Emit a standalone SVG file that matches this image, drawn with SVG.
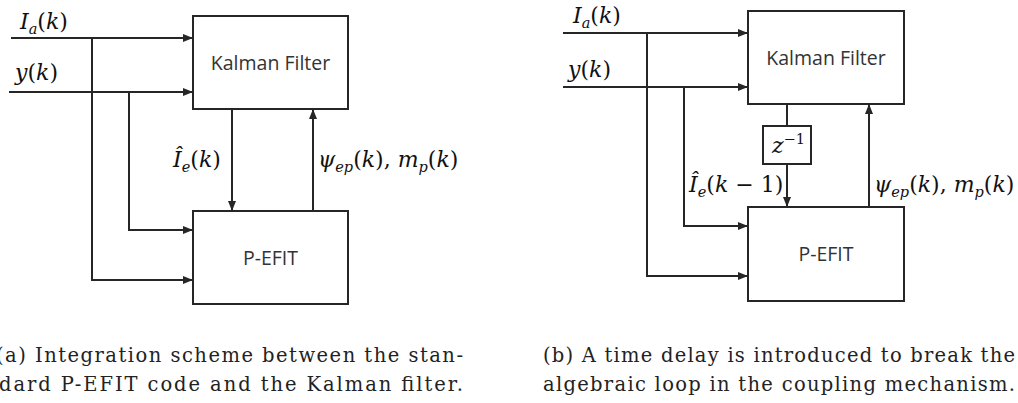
<svg xmlns="http://www.w3.org/2000/svg" width="1018" height="403" viewBox="0 0 1018 403">
<style>
.box{fill:#fff;stroke:#262626;stroke-width:2}
.ln{fill:none;stroke:#262626;stroke-width:2}
.blk{font-family:"Open Sans","Noto Sans",sans-serif;font-size:19.5px;fill:#333;text-anchor:middle}
.m{font-family:"DejaVu Serif","Liberation Serif",serif;font-size:22px;fill:#111}
.i{font-style:italic}
.s{font-size:14.5px;font-style:italic}
.cap{font-family:"DejaVu Serif","Liberation Serif",serif;font-size:19.5px;fill:#222}
</style>
<defs>
<marker id="ah" markerWidth="10" markerHeight="8" refX="10" refY="4" orient="auto" markerUnits="userSpaceOnUse">
<path d="M0,0 L10,4 L0,8 z" fill="#262626"/>
</marker>
</defs>
<g id="connectors">
<path class="ln" d="M11,38 H193" marker-end="url(#ah)"/>
<path class="ln" d="M9,92 H193" marker-end="url(#ah)"/>
<path class="ln" d="M92,38 V280 H193" marker-end="url(#ah)"/>
<path class="ln" d="M129,92 V230 H193" marker-end="url(#ah)"/>
<path class="ln" d="M232,109 V211" marker-end="url(#ah)"/>
<path class="ln" d="M313,211 V109" marker-end="url(#ah)"/>
<path class="ln" d="M563,33 H748" marker-end="url(#ah)"/>
<path class="ln" d="M563,87 H748" marker-end="url(#ah)"/>
<path class="ln" d="M647,33 V276 H748" marker-end="url(#ah)"/>
<path class="ln" d="M684,87 V226 H748" marker-end="url(#ah)"/>
<path class="ln" d="M787,104 V126"/>
<path class="ln" d="M787,164 V207" marker-end="url(#ah)"/>
<path class="ln" d="M869,207 V104" marker-end="url(#ah)"/>
</g>
<g id="kf-a"><rect class="box" x="193" y="16" width="155" height="93"/><text class="blk" x="270.5" y="70">Kalman Filter</text></g>
<g id="pefit-a"><rect class="box" x="193" y="211" width="155" height="93"/><text class="blk" x="270.5" y="265">P-EFIT</text></g>
<g id="kf-b"><rect class="box" x="748" y="11" width="156" height="93"/><text class="blk" x="826" y="65">Kalman Filter</text></g>
<g id="pefit-b"><rect class="box" x="748" y="207" width="156" height="94"/><text class="blk" x="826" y="261">P-EFIT</text></g>
<g id="delay-b"><rect class="box" x="763" y="126" width="48" height="38"/>
<text class="m" x="772" y="153"><tspan class="i">z</tspan><tspan font-size="14.5" dy="-9">−1</tspan></text></g>
<g id="labels">
<text class="m" x="20" y="29"><tspan class="i">I</tspan><tspan class="s" dy="5">a</tspan><tspan dy="-5">(</tspan><tspan class="i">k</tspan>)</text>
<text class="m" x="15" y="80"><tspan class="i">y</tspan>(<tspan class="i">k</tspan>)</text>
<text class="m" x="173" y="167"><tspan class="i">Î</tspan><tspan class="s" dy="5">e</tspan><tspan dy="-5">(</tspan><tspan class="i">k</tspan>)</text>
<text class="m" x="318" y="167"><tspan class="i">ψ</tspan><tspan class="s" dy="5">ep</tspan><tspan dy="-5">(</tspan><tspan class="i">k</tspan>), <tspan class="i">m</tspan><tspan class="s" dy="5">p</tspan><tspan dy="-5">(</tspan><tspan class="i">k</tspan>)</text>
<text class="m" x="573" y="23"><tspan class="i">I</tspan><tspan class="s" dy="5">a</tspan><tspan dy="-5">(</tspan><tspan class="i">k</tspan>)</text>
<text class="m" x="568" y="77"><tspan class="i">y</tspan>(<tspan class="i">k</tspan>)</text>
<text class="m" x="689" y="192"><tspan class="i">Î</tspan><tspan class="s" dy="5">e</tspan><tspan dy="-5">(</tspan><tspan class="i">k</tspan> − 1)</text>
<text class="m" x="874" y="192"><tspan class="i">ψ</tspan><tspan class="s" dy="5">ep</tspan><tspan dy="-5">(</tspan><tspan class="i">k</tspan>), <tspan class="i">m</tspan><tspan class="s" dy="5">p</tspan><tspan dy="-5">(</tspan><tspan class="i">k</tspan>)</text>
</g>
<g id="captions">
<text class="cap" x="-4" y="362" textLength="467" lengthAdjust="spacing">(a) Integration scheme between the stan-</text>
<text class="cap" x="-1" y="391" textLength="464" lengthAdjust="spacing">dard P-EFIT code and the Kalman filter.</text>
<text class="cap" x="543" y="362" textLength="472" lengthAdjust="spacing">(b) A time delay is introduced to break the</text>
<text class="cap" x="543" y="391" textLength="472" lengthAdjust="spacing">algebraic loop in the coupling mechanism.</text>
</g>
</svg>
